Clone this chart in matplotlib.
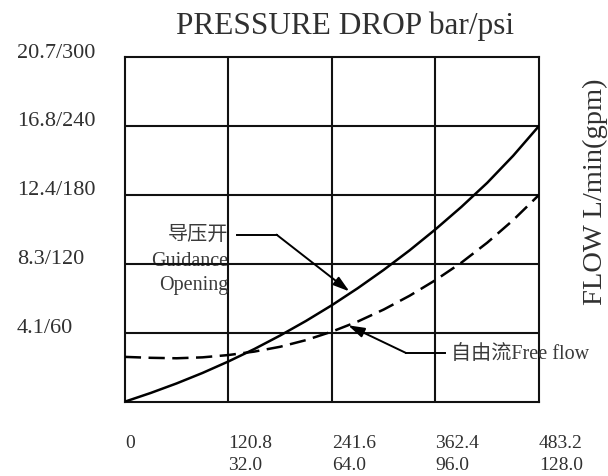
import numpy as np
import matplotlib
matplotlib.use("Agg")
import matplotlib.pyplot as plt
from matplotlib.transforms import blended_transform_factory, ScaledTranslation

plt.rcParams['font.family'] = ['Liberation Serif', 'Noto Sans CJK SC', 'DejaVu Sans']

# ---- data ----
flow_lpm = [0, 30.2, 60.4, 90.6, 120.8, 151, 181.2, 211.4, 241.6, 271.8,
            302, 332.2, 362.4, 392.6, 422.8, 453, 483.2]
guidance_psi = [0, 7.6, 15.9, 25, 35, 45.8, 57.6, 70.3, 84, 98.8,
                114.7, 131.7, 150, 169.5, 190.5, 214, 240]
freeflow_psi = [39, 38.2, 37.8, 38.6, 40.6, 43.6, 47.8, 53.6, 61, 69.8,
                80.2, 92.2, 105.8, 121, 138.4, 158, 180]

x_ticks = [0, 120.8, 241.6, 362.4, 483.2]
x_labels_lpm = ["0", "120.8", "241.6", "362.4", "483.2"]
x_labels_gpm = ["", "32.0", "64.0", "96.0", "128.0"]
y_ticks = [60, 120, 180, 240, 300]
y_labels = ["4.1/60", "8.3/120", "12.4/180", "16.8/240", "20.7/300"]

title = "PRESSURE DROP bar/psi"
ylabel_right = "FLOW L/min(gpm)"
label_guid_cn = "导压开"
label_guid_en = ["Guidance", "Opening"]
label_free = "自由流Free flow"

# ---- figure ----
W, H = 608, 476
fig = plt.figure(figsize=(W / 100, H / 100), dpi=100)
ax = fig.add_axes([124.8 / W, 1 - 401.7 / H, (539 - 124.8) / W, (401.7 - 57) / H])
ax.set_xlim(0, 483.2)
ax.set_ylim(0, 300)

grid_c = "#111111"
lw = 1.5
for xv in x_ticks[1:-1]:
    ax.axvline(xv, color=grid_c, lw=lw, zorder=1)
for yv in y_ticks[:-1]:
    ax.axhline(yv, color=grid_c, lw=lw, zorder=1)
for s in ax.spines.values():
    s.set_linewidth(lw)
    s.set_color(grid_c)
ax.set_xticks([])
ax.set_yticks([])

ax.plot(flow_lpm, guidance_psi, color="black", lw=1.8, zorder=3,
        solid_capstyle="round", solid_joinstyle="round")
ax.plot(flow_lpm, freeflow_psi, color="black", lw=1.8, zorder=3,
        dashes=(6.5, 3.0))

txt_c = "#303030"
# y labels (left aligned at fixed pixel x)
ty = blended_transform_factory(fig.transFigure, ax.transData)
off = ScaledTranslation(0, 4 / 100, fig.dpi_scale_trans)
for yv, lab in zip(y_ticks, y_labels):
    fig.text(17 / W, yv, lab, transform=ty + off, ha="left", va="center",
             fontsize=16, color=txt_c)

# x labels (two rows, left aligned at gridlines)
tx = blended_transform_factory(ax.transData, fig.transFigure)
for xv, l1, l2 in zip(x_ticks, x_labels_lpm, x_labels_gpm):
    fig.text(xv, 1 - 444 / H, l1, transform=tx, ha="left", va="center",
             fontsize=14, color=txt_c)
    fig.text(xv, 1 - 465 / H, l2, transform=tx, ha="left", va="center",
             fontsize=14, color=txt_c)

fig.text(345 / W, 1 - 26 / H, title, ha="center", va="center",
         fontsize=22.5, color=txt_c)
fig.text(595 / W, 1 - 191.5 / H, ylabel_right, ha="center", va="center",
         rotation=90, fontsize=20.5, color=txt_c)

# Guidance opening annotation
ann_c = "#3a3a3a"
ax.text(121, 145, label_guid_cn, ha="right", va="center", fontsize=14.5,
        color=ann_c)
ax.text(121, 122, label_guid_en[0], ha="right", va="center", fontsize=14.5,
        color=ann_c, zorder=0)
ax.text(121, 101, label_guid_en[1], ha="right", va="center", fontsize=14.5,
        color=ann_c)
gx = 262
gy = float(np.interp(gx, flow_lpm, guidance_psi)) + 2
ax.plot([130.5, 177], [145.4, 145.4], color="black", lw=1.4, zorder=4)
ax.annotate("", xy=(gx, gy), xytext=(177, 145.4),
            arrowprops=dict(arrowstyle="-|>,head_length=0.65,head_width=0.2",
                            color="black", lw=1.4, mutation_scale=15,
                            shrinkA=0, shrinkB=0), zorder=4)

# Free flow annotation
fx = 260.5
fy = float(np.interp(fx, flow_lpm, freeflow_psi))
ax.plot([327.8, 373.3], [42.5, 42.5], color="black", lw=1.4, zorder=4)
ax.annotate("", xy=(fx, fy), xytext=(327.8, 42.5),
            arrowprops=dict(arrowstyle="-|>,head_length=0.65,head_width=0.2",
                            color="black", lw=1.4, mutation_scale=15,
                            shrinkA=0, shrinkB=0), zorder=4)
ax.text(381, 41, label_free, ha="left", va="center", fontsize=14.5,
        color=ann_c, clip_on=False)

fig.savefig("out.png", dpi=100)
